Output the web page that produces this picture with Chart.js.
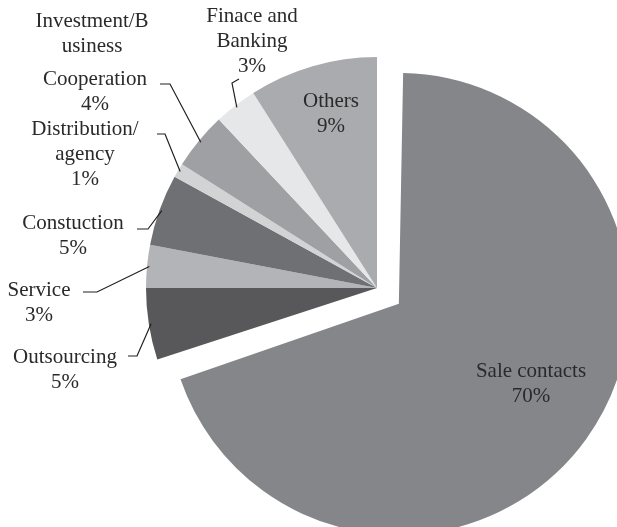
<!DOCTYPE html>
<html>
<head>
<meta charset="utf-8">
<script src="https://cdn.jsdelivr.net/npm/chart.js@4/dist/chart.umd.min.js"></script>
<style>
  html, body { margin: 0; padding: 0; background: #fff; overflow: hidden; }
  canvas { display: block; }
</style>
</head>
<body>
<canvas id="pie" width="617" height="527"></canvas>
<script>
// data, clockwise from 12 o'clock
const categories = ['Sale contacts', 'Outsourcing', 'Service', 'Constuction', 'Distribution/agency',
  'Cooperation', 'Investment/Business', 'Finace and Banking', 'Others']
const shares = [70, 5, 3, 5, 1, 4, 0, 3, 9]
const percentLabels = ['70%', '5%', '3%', '5%', '1%', '4%', '', '3%', '9%']

const colors = ['#85868a', '#58585b', '#b3b4b7', '#6f7074', '#d2d3d5', '#9fa0a3', '#c8c9cb', '#e6e7e8', '#aaabae']

// label layout: text lines, centre x, first baseline y, leader polyline (ends on the slice)
const labelLayout = [
  { lines: ['Sale contacts'], x: 531, y: 377 },
  { lines: ['Outsourcing'], x: 65, y: 363, leader: [[128, 356], [137, 356]] },
  { lines: ['Service'], x: 39, y: 296, leader: [[83, 292], [97, 292]] },
  { lines: ['Constuction'], x: 73, y: 229, leader: [[137, 229], [148, 229]] },
  { lines: ['Distribution/', 'agency'], x: 85, y: 135, leader: [[157, 134], [165, 134]] },
  { lines: ['Cooperation'], x: 95, y: 85, leader: [[160, 84], [170, 84]] },
  { lines: ['Investment/B', 'usiness'], x: 92, y: 27 },
  { lines: ['Finace and', 'Banking'], x: 252, y: 22, leader: [[239, 79], [232, 83]] },
  { lines: ['Others'], x: 331, y: 107 }
]

const FONT = '21px "Liberation Serif", "DejaVu Serif", serif'
const LINE_H = 25
// chart.js moves an exploded arc by offset / 4 (and grows its radius by the same amount)
const EXPLODE = 108

// keep the exploded slice the same size as the rest
const explodeFix = {
  id: 'explodeFix',
  afterUpdate(chart) {
    chart.getDatasetMeta(0).data.forEach(arc => {
      arc.outerRadius -= (arc.options.offset || 0) / 4
    })
  }
}

const labelPlugin = {
  id: 'pieLabels',
  afterDatasetsDraw(chart) {
    const ctx = chart.ctx
    const arcs = chart.getDatasetMeta(0).data
    ctx.save()
    ctx.font = FONT
    ctx.fillStyle = '#2a2a2a'
    ctx.strokeStyle = '#231f20'
    ctx.lineWidth = 1.2
    ctx.textAlign = 'center'
    ctx.textBaseline = 'alphabetic'
    labelLayout.forEach((lab, i) => {
      const lines = percentLabels[i] ? lab.lines.concat([percentLabels[i]]) : lab.lines
      lines.forEach((t, k) => ctx.fillText(t, lab.x, lab.y + k * LINE_H))
      if (!lab.leader) return
      const a = arcs[i]
      const p = a.getProps(['x', 'y', 'startAngle', 'endAngle', 'outerRadius'])
      const mid = (p.startAngle + p.endAngle) / 2
      const r = p.outerRadius * 0.99
      ctx.beginPath()
      ctx.moveTo(lab.leader[0][0], lab.leader[0][1])
      lab.leader.slice(1).forEach(pt => ctx.lineTo(pt[0], pt[1]))
      ctx.lineTo(p.x + Math.cos(mid) * r, p.y + Math.sin(mid) * r)
      ctx.stroke()
    })
    ctx.restore()
  }
}

new Chart(document.getElementById('pie'), {
  type: 'pie',
  data: {
    labels: categories,
    datasets: [{
      data: shares,
      backgroundColor: colors,
      borderWidth: 0,
      hoverOffset: 0,
      offset: ctx => ctx.dataIndex === 0 ? EXPLODE : 0,
      clip: false
    }]
  },
  options: {
    responsive: false,
    devicePixelRatio: 1,
    animation: false,
    radius: 231,
    layout: { padding: { left: 137, right: 0, top: 49, bottom: 0 } },
    plugins: {
      legend: { display: false },
      tooltip: { enabled: false }
    }
  },
  plugins: [explodeFix, labelPlugin]
})
</script>
</body>
</html>
